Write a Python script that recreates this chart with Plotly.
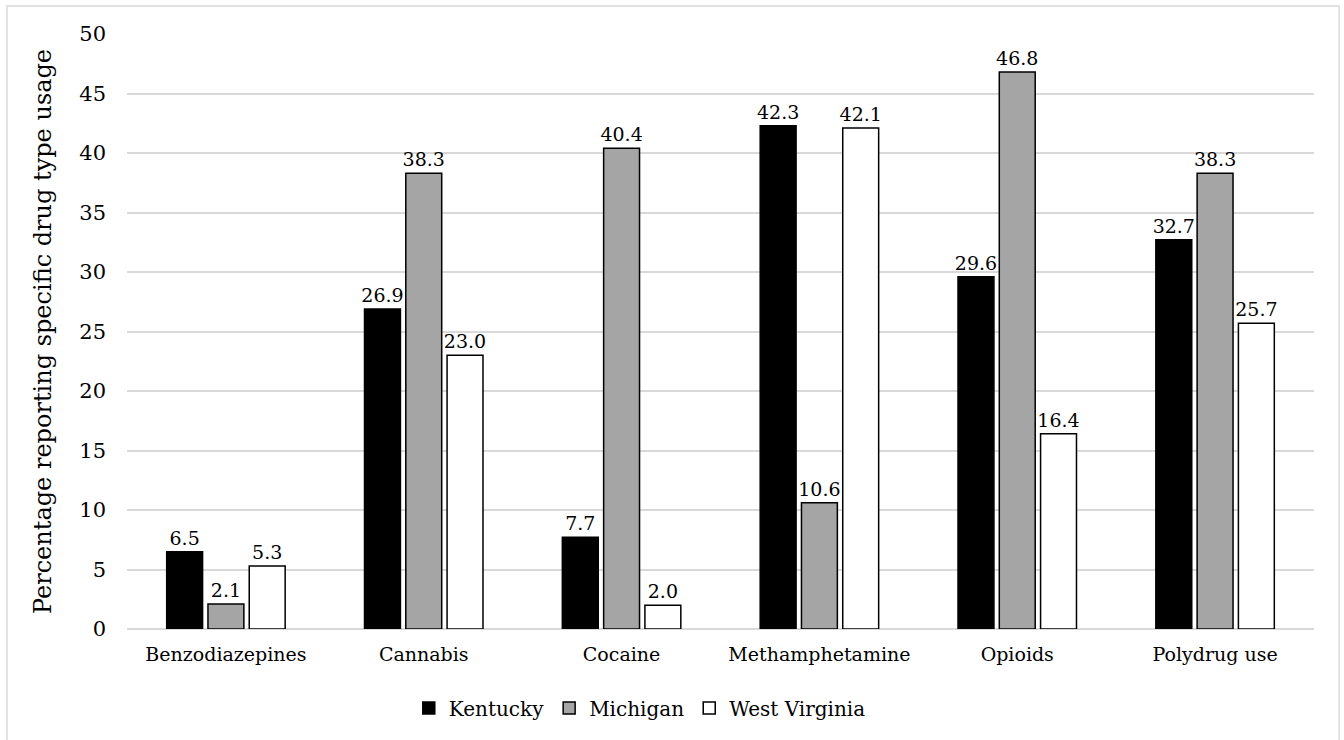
import plotly.graph_objects as go

categories = ["Benzodiazepines", "Cannabis", "Cocaine", "Methamphetamine", "Opioids", "Polydrug use"]
kentucky = [6.5, 26.9, 7.7, 42.3, 29.6, 32.7]
michigan = [2.1, 38.3, 40.4, 10.6, 46.8, 38.3]
west_virginia = [5.3, 23.0, 2.0, 42.1, 16.4, 25.7]
y_ticks = [0, 5, 10, 15, 20, 25, 30, 35, 40, 45, 50]

FONT = "DejaVu Serif"
series = [("Kentucky", kentucky, "#000000"), ("Michigan", michigan, "#a5a5a5"), ("West Virginia", west_virginia, "#ffffff")]

fig = go.Figure()
for name, vals, col in series:
    fig.add_trace(go.Bar(
        x=categories, y=vals, name=name,
        marker=dict(color=col, line=dict(color="#000000", width=1.5)),
        text=[f"{v:.1f}" for v in vals], textposition="outside",
        textfont=dict(family=FONT, size=19, color="#000000"),
        constraintext="none",
        cliponaxis=False,
    ))

fig.update_layout(
    width=1344, height=740,
    margin=dict(l=127, r=30, t=34, b=109),
    paper_bgcolor="white", plot_bgcolor="white",
    barmode="group", bargap=0.374, bargroupgap=0.13,
    font=dict(family=FONT, color="#000000"),
    legend=dict(orientation="h", x=0.432, xanchor="center", y=-0.1, yanchor="top",
                font=dict(family=FONT, size=20), itemwidth=30, tracegroupgap=0),
    xaxis=dict(tickfont=dict(family=FONT, size=19), showgrid=False, showline=False, ticks="",
               ticklabelstandoff=12),
    yaxis=dict(range=[0, 50], tickvals=y_ticks, tickfont=dict(family=FONT, size=21),
               gridcolor="#d9d9d9", gridwidth=1.5, zeroline=True, zerolinecolor="#d9d9d9",
               zerolinewidth=1.5, showline=False, ticks="", ticklabelstandoff=20,
               title=dict(text="Percentage reporting specific drug type usage",
                          font=dict(family=FONT, size=24), standoff=20)),
)
fig.add_shape(type="rect", xref="paper", yref="paper", x0=-0.1011, x1=1.0211, y0=-0.22, y1=1.0469,
              line=dict(color="#d9d9d9", width=1.5), fillcolor="rgba(0,0,0,0)", layer="below")
fig.write_html("out.html", config={"displayModeBar": False},
               post_script="document.body.style.margin='0';document.body.style.overflow='hidden';")
